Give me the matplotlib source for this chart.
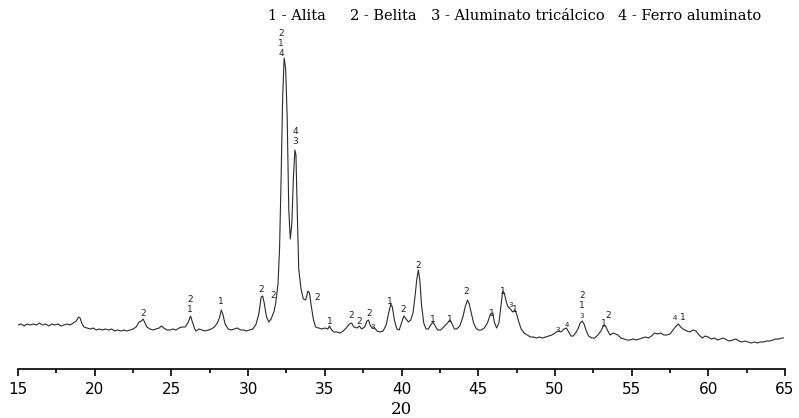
import matplotlib.pyplot as plt

# difractograma (2 theta vs intensidade, unidades arbitrarias)
two_theta = [15.0, 15.2, 15.4, 15.6, 15.8, 16.0, 16.2, 16.4, 16.6, 16.8, 17.0, 17.2, 17.4, 17.6, 17.8,
             18.0, 18.2, 18.4, 18.6, 18.8, 18.95, 19.05, 19.15, 19.3, 19.5, 19.7, 19.9, 20.1, 20.3, 20.5,
             20.7, 20.9, 21.1, 21.3, 21.5, 21.7, 21.9, 22.1, 22.3, 22.5, 22.7, 22.9, 23.05, 23.15, 23.25,
             23.4, 23.6, 23.8, 24.0, 24.2, 24.35, 24.5, 24.7, 24.9, 25.1, 25.3, 25.5, 25.7, 25.9, 26.1,
             26.25, 26.35, 26.5, 26.6, 26.8, 27.0, 27.2, 27.4, 27.6, 27.8, 28.0, 28.15, 28.25, 28.35, 28.5,
             28.7, 28.9, 29.1, 29.3, 29.5, 29.7, 29.9, 30.1, 30.3, 30.5, 30.7, 30.85, 30.95, 31.05, 31.2,
             31.35, 31.5, 31.7, 31.8, 31.95, 32.05, 32.15, 32.25, 32.35, 32.45, 32.55, 32.65, 32.75, 32.85,
             32.95, 33.05, 33.12, 33.2, 33.3, 33.45, 33.6, 33.75, 33.9, 34.0, 34.1, 34.25, 34.4, 34.6, 34.8,
             35.0, 35.2, 35.3, 35.45, 35.6, 35.8, 36.0, 36.2, 36.4, 36.6, 36.75, 36.9, 37.1, 37.25, 37.4,
             37.6, 37.75, 37.85, 37.95, 38.1, 38.25, 38.4, 38.6, 38.8, 39.0, 39.15, 39.3, 39.4, 39.55, 39.7,
             39.85, 40.0, 40.15, 40.3, 40.45, 40.6, 40.75, 40.9, 41.0, 41.1, 41.2, 41.3, 41.45, 41.6, 41.75,
             41.9, 42.05, 42.2, 42.35, 42.55, 42.75, 43.0, 43.15, 43.3, 43.45, 43.6, 43.8, 44.0, 44.15, 44.3,
             44.4, 44.55, 44.7, 44.85, 45.0, 45.2, 45.4, 45.6, 45.8, 45.95, 46.05, 46.2, 46.35, 46.5, 46.6,
             46.7, 46.85, 46.95, 47.1, 47.25, 47.4, 47.5, 47.65, 47.8, 48.0, 48.2, 48.4, 48.6, 48.8, 49.0,
             49.2, 49.4, 49.6, 49.8, 50.0, 50.2, 50.4, 50.6, 50.75, 50.9, 51.05, 51.2, 51.35, 51.5, 51.65,
             51.78, 51.9, 52.05, 52.2, 52.4, 52.6, 52.8, 53.0, 53.15, 53.3, 53.45, 53.6, 53.8, 53.95, 54.1,
             54.3, 54.5, 54.7, 54.9, 55.1, 55.3, 55.5, 55.7, 55.9, 56.1, 56.3, 56.5, 56.7, 56.9, 57.1,
             57.3, 57.5, 57.7, 57.9, 58.05, 58.2, 58.35, 58.6, 58.8, 59.0, 59.2, 59.4, 59.6, 59.8, 60.0,
             60.2, 60.4, 60.6, 60.8, 61.0, 61.2, 61.4, 61.6, 61.8, 62.0, 62.2, 62.4, 62.6, 62.8, 63.0,
             63.2, 63.4, 63.6, 63.8, 64.0, 64.2, 64.4, 64.6, 64.8, 64.9]
intensity = [44, 45, 43, 45, 44, 45, 44, 46, 44, 45, 43, 45, 44, 45, 43,
             44, 45, 44, 46, 48, 52, 51, 46, 42, 41, 40, 41, 39, 40, 39,
             40, 39, 40, 38, 39, 38, 39, 38, 39, 40, 42, 47, 48, 50, 47,
             42, 40, 39, 40, 41, 43, 41, 39, 39, 40, 39, 41, 42, 42, 47,
             53, 48, 41, 38, 40, 39, 38, 39, 40, 42, 46, 52, 59, 55, 45,
             40, 39, 40, 41, 39, 39, 38, 39, 40, 44, 55, 72, 73, 66, 52,
             47, 50, 58, 66, 85, 120, 190, 270, 311, 300, 250, 160, 130, 145,
             190, 219, 214, 160, 100, 80, 70, 69, 78, 76, 65, 50, 42, 41, 40,
             41, 40, 43, 39, 37, 37, 36, 38, 41, 45, 46, 42, 41, 43, 40,
             42, 48, 49, 44, 41, 41, 38, 37, 38, 44, 55, 65, 62, 48, 40,
             39, 46, 53, 50, 47, 49, 56, 75, 90, 99, 88, 65, 46, 40, 40,
             44, 47, 43, 39, 39, 42, 46, 49, 45, 40, 40, 43, 52, 62, 69,
             66, 56, 46, 41, 39, 39, 41, 46, 55, 56, 47, 41, 46, 65, 78,
             76, 66, 62, 60, 57, 59, 55, 47, 40, 36, 34, 32, 32, 31, 32,
             31, 32, 33, 34, 36, 38, 37, 40, 41, 37, 33, 33, 36, 40, 46,
             48, 45, 38, 33, 31, 31, 34, 38, 43, 43, 38, 34, 36, 35, 34,
             31, 30, 29, 29, 30, 29, 30, 31, 32, 31, 33, 36, 35, 36, 34,
             34, 35, 39, 43, 45, 42, 40, 38, 37, 39, 38, 34, 31, 33, 32,
             30, 31, 29, 30, 31, 29, 28, 29, 30, 28, 27, 28, 27, 26, 27,
             26, 27, 27, 28, 28, 29, 30, 30, 31, 31]

# identificacao dos picos: (2theta, altura, fase, pequeno)
label_x = [23.15, 26.21, 26.21, 28.23, 30.84, 31.62, 32.14, 32.14, 32.14, 33.06, 33.06, 34.49,
           35.34, 36.71, 37.23, 37.88, 38.14, 39.25, 40.10, 41.08, 42.05, 43.16, 44.20, 45.90,
           46.62, 47.14, 47.40, 50.20, 50.79, 51.77, 51.77, 51.77, 53.46, 53.20, 57.83, 58.35]
label_y = [56, 69, 59, 67, 79, 73, 335, 325, 315, 238, 228, 71,
           47, 54, 48, 56, 42, 68, 59, 104, 49, 49, 77, 56,
           77, 64, 59, 39, 44, 73, 63, 53, 54, 45, 51, 51]
label_txt = ['2', '2', '1', '1', '2', '2', '2', '1', '4', '4', '3', '2',
             '1', '2', '2', '2', '3', '1', '2', '2', '1', '1', '2', '1',
             '1', '3', '1', '3', '4', '2', '1', '3', '2', '1', '4', '1']
label_small = [0, 0, 0, 0, 0, 0, 0, 0, 0, 0, 0, 0,
               0, 0, 0, 0, 1, 0, 0, 0, 0, 0, 0, 0,
               0, 1, 0, 1, 1, 0, 0, 1, 0, 0, 1, 0]

phases = ['1 - Alita', '2 - Belita', '3 - Aluminato tricálcico', '4 - Ferro aluminato']
phase_x = [268, 350, 431, 618]   # posicao em pixels

fig = plt.figure(figsize=(7.99, 4.18), dpi=100)
ax = fig.add_axes([18 / 799, 49 / 418, 767 / 799, 369 / 418])

ax.plot(two_theta, intensity, color='#2a2a2a', lw=0.8)

for x, y, t, s in zip(label_x, label_y, label_txt, label_small):
    ax.text(x, y, t, ha='center', va='center', fontsize=5 if s else 6.5,
            family='DejaVu Sans', color='#222222')

ax.set_xlim(15, 65)
ax.set_ylim(0, 369)
ax.set_xticks(range(15, 66, 5))
ax.set_xticks([17.5 + 5 * i for i in range(10)], minor=True)
ax.tick_params(axis='x', which='major', direction='out', length=5, width=1.2, labelsize=11, pad=4)
ax.tick_params(axis='x', which='minor', direction='out', length=3, width=1.2)
ax.set_yticks([])
for s in ['left', 'right', 'top']:
    ax.spines[s].set_visible(False)
ax.spines['bottom'].set_linewidth(1.2)

ax.set_xlabel('20', family='DejaVu Serif', fontsize=12, labelpad=3)

for txt, px in zip(phases, phase_x):
    fig.text(px / 799, 1 - 16 / 418, txt, ha='left', va='center',
             family='DejaVu Serif', fontsize=10.5)

fig.savefig('out.png', dpi=100)
